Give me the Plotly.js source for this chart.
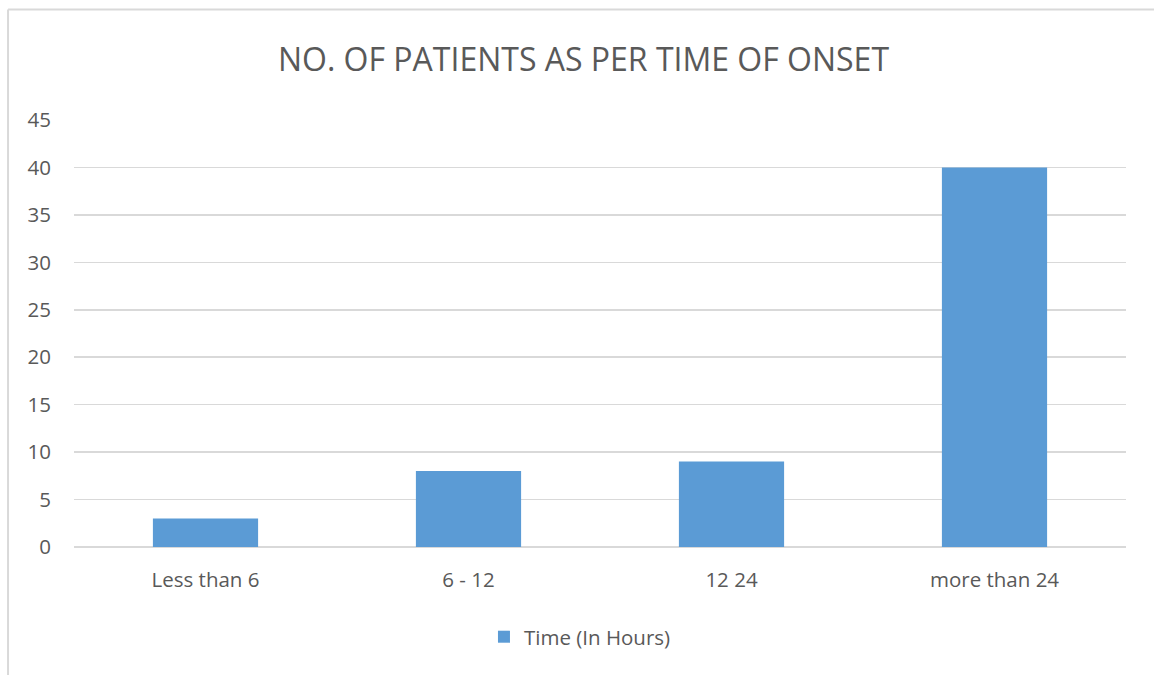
<!DOCTYPE html>
<html>
<head>
<meta charset="utf-8">
<script src="https://cdn.plot.ly/plotly-3.0.1.min.js"></script>
<style>html,body{margin:0;padding:0;background:#fff;}#chart{width:1154px;height:675px;}</style>
</head>
<body>
<div id="chart"></div>
<script>
var categories = ["Less than 6", "6 - 12", "12 24", "more than 24"];
var patients = [3, 8, 9, 40];
var seriesName = "Time (In Hours)";
var yTicks = [0, 5, 10, 15, 20, 25, 30, 35, 40, 45];

var FONT = "'Open Sans', sans-serif";
var TXT = "#595959";

var trace = {
  type: "bar",
  x: categories,
  y: patients,
  name: seriesName,
  marker: {color: "#5b9bd5"},
  hoverinfo: "x+y"
};

var layout = {
  width: 1154, height: 675,
  margin: {l: 74, r: 28, t: 119.5, b: 128, pad: 0},
  paper_bgcolor: "#ffffff",
  plot_bgcolor: "#ffffff",
  bargap: 0.6,
  font: {family: FONT, color: TXT, size: 20.5},
  title: {
    text: "NO. OF PATIENTS AS PER TIME OF ONSET",
    font: {family: FONT, size: 32, color: TXT},
    xref: "container", x: 0.5056, xanchor: "center",
    yref: "container", y: 0.911, yanchor: "middle"
  },
  xaxis: {
    type: "category",
    showgrid: false,
    showline: false,
    zeroline: false,
    ticks: "",
    ticklabelstandoff: 18,
    tickfont: {family: FONT, size: 20.5, color: TXT}
  },
  yaxis: {
    range: [0, 45],
    tickvals: yTicks,
    ticktext: yTicks.map(String),
    showgrid: true,
    gridcolor: "#d9d9d9",
    gridwidth: 1.5,
    zeroline: true,
    zerolinecolor: "#d9d9d9",
    zerolinewidth: 2,
    showline: false,
    ticks: "",
    ticklabelstandoff: 22,
    tickfont: {family: FONT, size: 20.5, color: TXT}
  },
  showlegend: true,
  legend: {
    orientation: "h",
    x: 0.3897, xanchor: "left",
    y: -0.2105, yanchor: "middle",
    font: {family: FONT, size: 20.5, color: TXT},
    itemwidth: 30,
    bgcolor: "rgba(0,0,0,0)"
  },
  shapes: [
    {type: "line", xref: "paper", yref: "paper", x0: -0.0627, x1: -0.0627, y0: -0.31, y1: 1.2585,
     line: {color: "#d9d9d9", width: 2}},
    {type: "line", xref: "paper", yref: "paper", x0: -0.0627, x1: 1.03, y0: 1.2585, y1: 1.2585,
     line: {color: "#d9d9d9", width: 2}}
  ]
};

Plotly.newPlot("chart", [trace], layout, {displayModeBar: false, staticPlot: true});
</script>
</body>
</html>
